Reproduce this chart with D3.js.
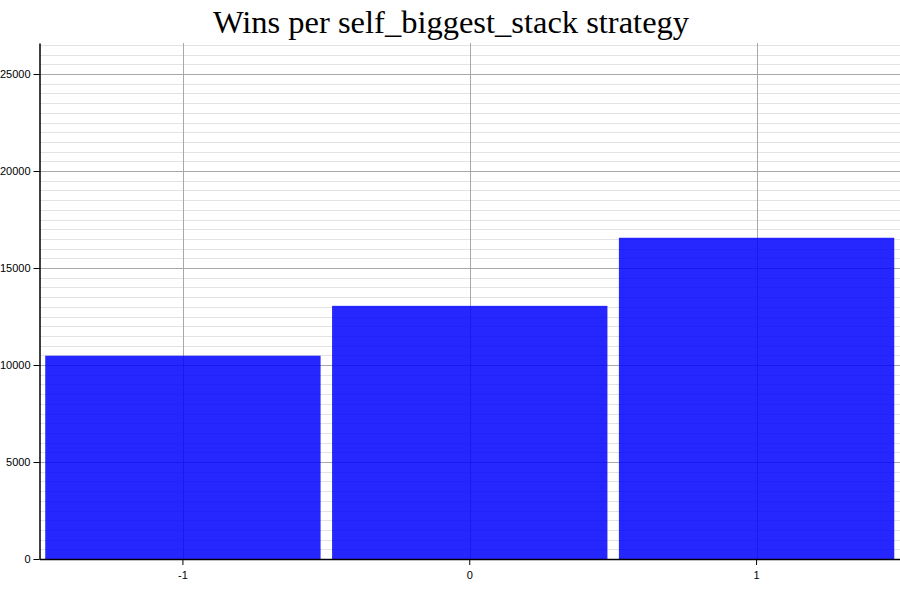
<!DOCTYPE html>
<html>
<head>
<meta charset="utf-8">
<script src="https://cdn.jsdelivr.net/npm/d3@7"></script>
<style>
  body { margin: 0; background: #fff; }
  svg { display: block; }
</style>
</head>
<body>
<svg id="chart" width="900" height="600"></svg>
<script>
// chart data
var strategies = ["-1", "0", "1"];
var wins = [10480, 13050, 16560];
var y_ticks = [0, 5000, 10000, 15000, 20000, 25000];
var y_max = 26600;
var title_text = "Wins per self_biggest_stack strategy";

var width = 900, height = 600;
var margin = {top: 43, right: 0, bottom: 41, left: 39.5};

var svg = d3.select("#chart");

var x = d3.scaleBand()
      .domain(strategies)
      .range([margin.left, width - margin.right])
      .paddingInner(0.04)
      .paddingOuter(0.02);

var y = d3.scaleLinear()
      .domain([0, y_max])
      .range([height - margin.bottom, margin.top]);

// minor grid every 500
var minor_ticks = d3.range(0, y_max + 1, 500).filter(function(v) { return v % 5000 !== 0; });

svg.append("g").selectAll("line")
  .data(minor_ticks)
  .enter()
  .append("line")
    .attr("x1", margin.left)
    .attr("x2", width - margin.right)
    .attr("y1", function(d) { return Math.round(y(d)) + 0.5; })
    .attr("y2", function(d) { return Math.round(y(d)) + 0.5; })
    .attr("stroke", "#e3e3e3")
    .attr("stroke-width", 1);

// major grid
svg.append("g").selectAll("line")
  .data(y_ticks)
  .enter()
  .append("line")
    .attr("x1", margin.left)
    .attr("x2", width - margin.right)
    .attr("y1", function(d) { return Math.round(y(d)) + 0.5; })
    .attr("y2", function(d) { return Math.round(y(d)) + 0.5; })
    .attr("stroke", "#a8a8a8")
    .attr("stroke-width", 1);

// vertical grid at category centres
svg.append("g").selectAll("line")
  .data(strategies)
  .enter()
  .append("line")
    .attr("x1", function(d) { return Math.round(x(d) + x.bandwidth() / 2) + 0.5; })
    .attr("x2", function(d) { return Math.round(x(d) + x.bandwidth() / 2) + 0.5; })
    .attr("y1", margin.top)
    .attr("y2", height - margin.bottom)
    .attr("stroke", "#a8a8a8")
    .attr("stroke-width", 1);

// bars
svg.append("g").selectAll("rect")
  .data(wins)
  .enter()
  .append("rect")
    .attr("x", function(d, i) { return x(strategies[i]); })
    .attr("y", function(d) { return y(d); })
    .attr("width", x.bandwidth())
    .attr("height", function(d) { return y(0) - y(d); })
    .attr("fill", "#0000ff")
    .attr("fill-opacity", 0.85);

// axes
var y_axis = svg.append("g")
  .attr("transform", "translate(" + margin.left + ",0)")
  .call(d3.axisLeft(y).tickValues(y_ticks).tickSizeInner(6).tickSizeOuter(0)
          .tickPadding(3).tickFormat(d3.format("d")));

var x_axis = svg.append("g")
  .attr("transform", "translate(0," + (height - margin.bottom) + ")")
  .call(d3.axisBottom(x).tickSizeInner(6).tickSizeOuter(0).tickPadding(6));

[y_axis, x_axis].forEach(function(ax) {
  ax.select(".domain").attr("stroke", "#000").attr("stroke-width", 1.5);
  ax.selectAll(".tick line").attr("stroke", "#000");
  ax.selectAll(".tick text")
    .attr("fill", "#000")
    .style("font-family", "'Liberation Sans', Arial, sans-serif")
    .style("font-size", "11px");
});

// title
svg.append("text")
  .attr("x", 451)
  .attr("y", 33)
  .attr("text-anchor", "middle")
  .style("font-family", "'Liberation Serif', 'Times New Roman', serif")
  .style("font-size", "32.5px")
  .attr("fill", "#000")
  .text(title_text);
</script>
</body>
</html>
